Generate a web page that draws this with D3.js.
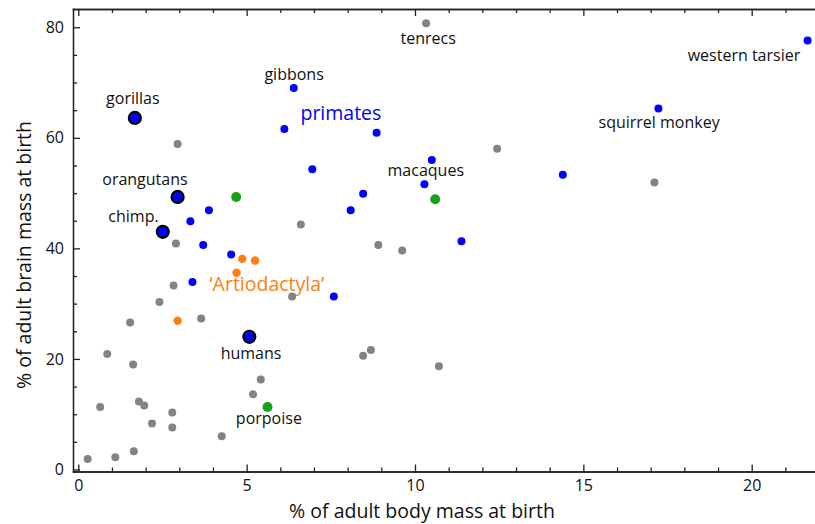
<!DOCTYPE html>
<html>
<head>
<meta charset="utf-8">
<script src="https://cdn.jsdelivr.net/npm/d3@7"></script>
<style>
  body { margin: 0; background: #fff; }
  svg { display: block; font-family: "Open Sans", sans-serif; }
  .axis path, .axis line { stroke: #222; stroke-width: 1.3; }
  .axis text { font-size: 16px; fill: #111; font-family: "Open Sans", sans-serif; }
</style>
</head>
<body>
<svg id="chart" width="815" height="524"></svg>
<script>
// other mammals (grey)
var grey = [
  [2.95, 58.9], [2.90, 40.9], [2.83, 33.3], [2.41, 30.3], [1.54, 26.6], [3.65, 27.3],
  [0.86, 20.9], [1.63, 19.0], [5.42, 16.3], [5.19, 13.6], [0.65, 11.3], [1.80, 12.3],
  [1.96, 11.6], [2.79, 10.3], [2.19, 8.3], [2.79, 7.6], [4.26, 6.0], [0.28, 1.9],
  [1.10, 2.2], [1.65, 3.3], [10.33, 80.7], [12.44, 58.0], [6.61, 44.3], [8.91, 40.6],
  [9.62, 39.6], [6.35, 31.3], [8.46, 20.6], [8.69, 21.6], [10.71, 18.7], [17.11, 51.9]
]
var primates = [
  [6.40, 69.0], [6.12, 61.6], [8.86, 60.9], [10.50, 56.0], [6.95, 54.3], [10.28, 51.6],
  [8.46, 49.9], [8.09, 46.9], [11.38, 41.3], [3.88, 46.9], [3.33, 44.9], [3.71, 40.6],
  [4.54, 38.9], [3.39, 33.9], [7.59, 31.3], [21.66, 77.6], [17.23, 65.3], [14.39, 53.3]
]
// great apes + humans (big outlined dots)
var apes = [[1.68, 63.6], [2.95, 49.3], [2.51, 43.0], [5.08, 24.0]]
var cetaceans = [[4.69, 49.3], [10.60, 48.9], [5.62, 11.3]]
var artiodactyla = [[4.87, 38.1], [5.25, 37.8], [4.70, 35.6], [2.95, 26.9]]

// annotation text, anchored at [x, y] in data units (centre, baseline)
var labels = [
  ["gorillas", 1.62, 66.1], ["orangutans", 1.98, 51.5], ["chimp.", 1.64, 44.8],
  ["gibbons", 6.41, 70.5], ["tenrecs", 10.39, 76.9], ["macaques", 10.32, 53.1],
  ["western tarsier", 19.77, 73.9], ["squirrel monkey", 17.25, 61.8],
  ["humans", 5.13, 19.9], ["porpoise", 5.66, 8.2]
]
var groupLabels = [["primates", 7.80, 63.2, "#0000ff"], ["\u2018Artiodactyla\u2019", 5.60, 32.3, "#ff8010"]]

var xMajor = [0, 5, 10, 15, 20]
var yMajor = [0, 20, 40, 60, 80]

var svg = d3.select("#chart"),
    margin = { top: 9, left: 73, bottom: 52.5, right: 0 },
    width = +svg.attr("width"),
    height = +svg.attr("height")

var x = d3.scaleLinear()
    .domain([-0.157, 21.88])
    .range([margin.left, width - margin.right])

var y = d3.scaleLinear()
    .domain([-0.36, 83.3])
    .range([height - margin.bottom, margin.top])

var xMinor = d3.range(0, 22).filter(v => v % 5 != 0)
var yMinor = d3.range(0, 85, 5).filter(v => v % 20 != 0)

// bottom axis
svg.append("g").attr("class", "axis")
    .attr("transform", `translate(0,${height - margin.bottom})`)
    .call(d3.axisBottom(x).tickValues(xMinor).tickSize(-4).tickSizeOuter(0).tickFormat(""))
svg.append("g").attr("class", "axis")
    .attr("transform", `translate(0,${height - margin.bottom})`)
    .call(d3.axisBottom(x).tickValues(xMajor).tickSize(-7).tickSizeOuter(0).tickPadding(8))

// top axis (ticks only)
svg.append("g").attr("class", "axis")
    .attr("transform", `translate(0,${margin.top})`)
    .call(d3.axisTop(x).tickValues(xMinor).tickSize(-4).tickSizeOuter(0).tickFormat(""))
svg.append("g").attr("class", "axis")
    .attr("transform", `translate(0,${margin.top})`)
    .call(d3.axisTop(x).tickValues(xMajor).tickSize(-7).tickSizeOuter(0).tickFormat(""))

// left axis
svg.append("g").attr("class", "axis")
    .attr("transform", `translate(${margin.left},0)`)
    .call(d3.axisLeft(y).tickValues(yMinor).tickSize(-4).tickSizeOuter(0).tickFormat(""))
svg.append("g").attr("class", "axis")
    .attr("transform", `translate(${margin.left},0)`)
    .call(d3.axisLeft(y).tickValues(yMajor).tickSize(-7).tickSizeOuter(0).tickPadding(9))

svg.selectAll(".axis .domain").attr("stroke-linecap", "square")

// axis titles
svg.append("text")
    .attr("x", 422).attr("y", 518)
    .attr("text-anchor", "middle")
    .style("font-size", "19.5px").style("fill", "#111")
    .text("% of adult body mass at birth")

svg.append("text")
    .attr("transform", "translate(31,255) rotate(-90)")
    .attr("text-anchor", "middle")
    .style("font-size", "19.5px").style("fill", "#111")
    .text("% of adult brain mass at birth")

function dots(data, r, fill, stroke, sw) {
    svg.append("g").selectAll("circle")
        .data(data)
        .enter().append("circle")
        .attr("cx", d => x(d[0]))
        .attr("cy", d => y(d[1]))
        .attr("r", r)
        .attr("fill", fill)
        .attr("stroke", stroke)
        .attr("stroke-width", sw)
}

dots(grey, 4, "#838383", "none", 0)
dots(artiodactyla, 4.2, "#ff8010", "none", 0)
dots(cetaceans, 5, "#16a316", "none", 0)
dots(primates, 4, "#0000ff", "none", 0)
dots(apes, 6, "#0000ff", "#000", 2.2)

svg.append("g").selectAll("text")
    .data(labels)
    .enter().append("text")
    .attr("x", d => x(d[1]))
    .attr("y", d => y(d[2]))
    .attr("text-anchor", "middle")
    .style("font-size", "16px").style("fill", "#111")
    .text(d => d[0])

svg.append("g").selectAll("text")
    .data(groupLabels)
    .enter().append("text")
    .attr("x", d => x(d[1]))
    .attr("y", d => y(d[2]))
    .attr("text-anchor", "middle")
    .style("font-size", "19.5px")
    .style("fill", d => d[3])
    .text(d => d[0])
</script>
</body>
</html>
